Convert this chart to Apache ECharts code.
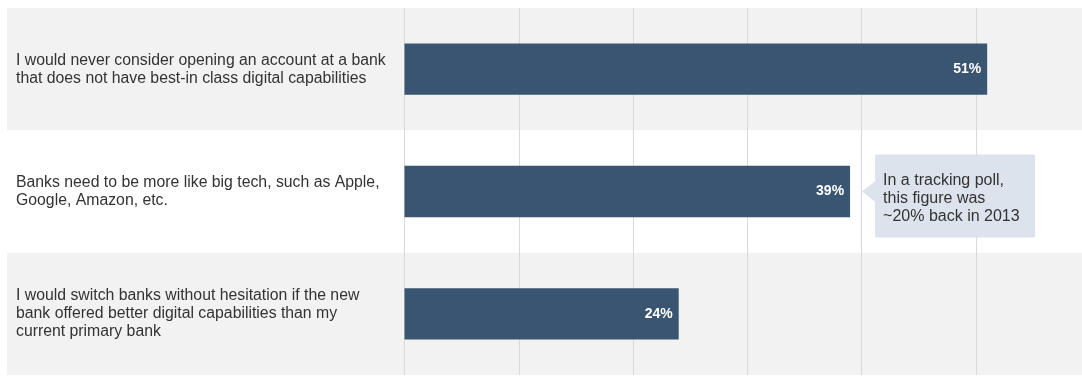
<!DOCTYPE html>
<html><head><meta charset="utf-8">
<script src="https://cdn.jsdelivr.net/npm/echarts@6/dist/echarts.min.js"></script>
<style>html,body{margin:0;padding:0;background:#fff}#c{width:1082px;height:376px}</style>
</head><body><div id="c"></div>
<script>
const categories = [
  'I would never consider opening an account at a bank\nthat does not have best-in class digital capabilities',
  'Banks need to be more like big tech, such as Apple,\nGoogle, Amazon, etc.',
  'I would switch banks without hesitation if the new\nbank offered better digital capabilities than my\ncurrent primary bank'
];
const values = [51, 39, 24];
const xMin = 0, xMax = 60, xStep = 10;
const noteIndex = 1;
const noteLines = ['In a tracking poll,', 'this figure was', '~20% back in 2013'];

const FONT = '"Liberation Sans", Arial, Helvetica, sans-serif';
const chart = echarts.init(document.getElementById('c'), null, {renderer: 'canvas'});
chart.setOption({
  animation: false,
  backgroundColor: '#ffffff',
  grid: [
    {left: 404.5, right: -8, top: 8, bottom: 1, outerBoundsMode: 'none', containLabel: false},
    {left: 7, right: 0, top: 8, bottom: 1, outerBoundsMode: 'none'}
  ],
  xAxis: [
    {gridIndex: 0, type: 'value', min: xMin, max: xMax, interval: xStep,
     axisLine: {show: false}, axisTick: {show: false}, axisLabel: {show: false},
     splitLine: {show: true, lineStyle: {color: '#d9d9d9', width: 1}}},
    {gridIndex: 1, type: 'value', min: 0, max: 1, z: -1,
     axisLine: {show: false}, axisTick: {show: false}, axisLabel: {show: false},
     splitLine: {show: false}}
  ],
  yAxis: [
    {gridIndex: 0, type: 'category', data: categories, inverse: true,
     axisLine: {show: false}, axisTick: {show: false},
     axisLabel: {align: 'left', margin: 388.5, fontSize: 15.8, lineHeight: 18,
                 color: '#333333', fontFamily: FONT}},
    {gridIndex: 1, type: 'category', data: categories, inverse: true, z: -1,
     axisLine: {show: false}, axisTick: {show: false}, axisLabel: {show: false},
     splitArea: {show: true, areaStyle: {color: ['#f2f2f2', '#ffffff']}}}
  ],
  series: [{
    type: 'bar', xAxisIndex: 0, yAxisIndex: 0, data: values,
    barWidth: '42%',
    itemStyle: {color: '#3a5571'},
    label: {show: true, position: 'insideRight', distance: 6, formatter: '{c}%',
            color: '#ffffff', fontWeight: 'bold', fontSize: 14, fontFamily: FONT}
  }]
});

const p = chart.convertToPixel({seriesIndex: 0}, [values[noteIndex], noteIndex]);
const bx = p[0] + 25, by = p[1] - 37, bw = 160, bh = 83;
chart.setOption({
  graphic: [
    {type: 'polygon', z: 100,
     shape: {points: [[p[0] + 12, p[1]], [bx + 1, p[1] - 11], [bx + 1, p[1] + 11]]},
     style: {fill: '#dce3ec'}},
    {type: 'rect', z: 100, shape: {x: bx, y: by, width: bw, height: bh},
     style: {fill: '#dce3ec'}},
    {type: 'text', z: 101, x: bx + 8, y: p[1] + 7,
     style: {text: noteLines.join('\n'), fill: '#333333', font: '16px ' + FONT,
             lineHeight: 18, verticalAlign: 'middle', align: 'left'}}
  ]
});
</script>
</body></html>
